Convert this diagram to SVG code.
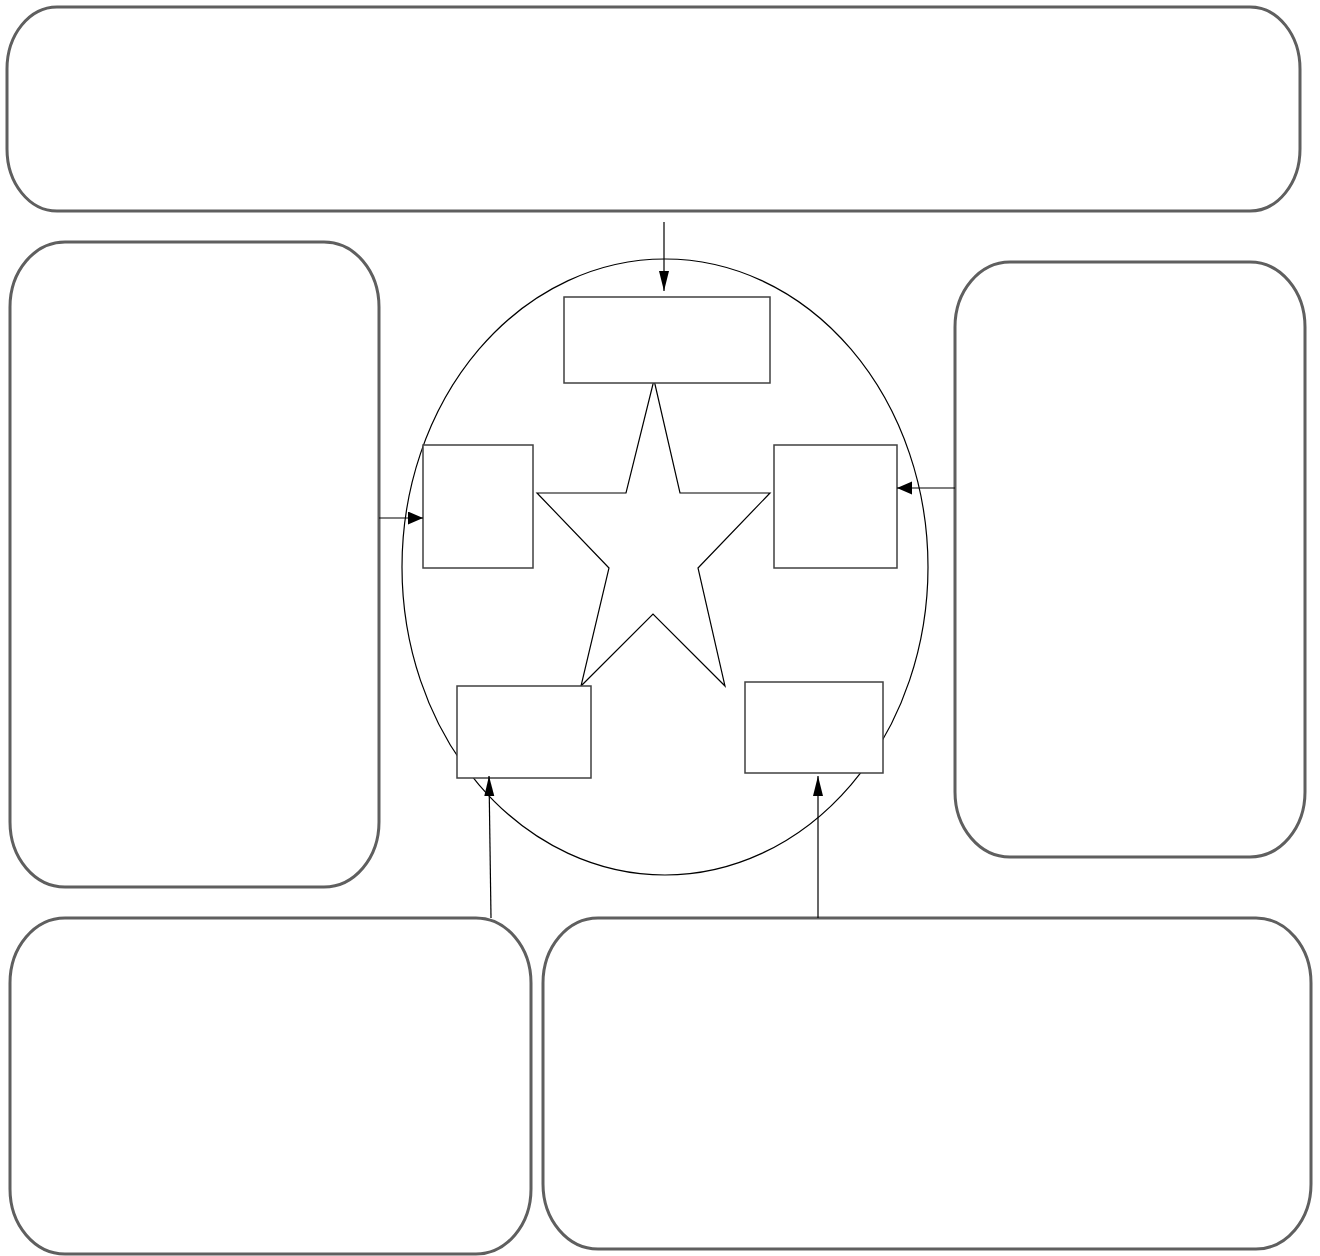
<svg xmlns="http://www.w3.org/2000/svg" width="1320" height="1256" viewBox="0 0 1320 1256">
<style>
.box{fill:#fff;stroke:#5f5f5f;stroke-width:3}
.inner{fill:#fff;stroke:#404040;stroke-width:1.5}
.shape{fill:none;stroke:#000;stroke-width:1.2}
.conn{fill:none;stroke:#000;stroke-width:1.2}
</style>
<defs>
<marker id="ahN" markerUnits="userSpaceOnUse" markerWidth="22" markerHeight="12" refX="20" refY="5" orient="auto">
<path d="M0,0 L20,5 L0,10 Z" fill="#000"/>
</marker>
<marker id="ahW" markerUnits="userSpaceOnUse" markerWidth="16" markerHeight="14" refX="15" refY="6.5" orient="auto">
<path d="M0,0 L15,6.5 L0,13 Z" fill="#000"/>
</marker>
</defs>
<g id="top-box"><rect class="box" x="7" y="7" width="1293" height="204" rx="50" ry="62"/></g>
<g id="left-box"><rect class="box" x="10" y="242" width="369" height="645" rx="55" ry="65"/></g>
<g id="right-box"><rect class="box" x="955" y="262" width="350" height="595" rx="55" ry="65"/></g>
<g id="bottom-left-box"><rect class="box" x="10" y="918" width="521" height="336" rx="55" ry="65"/></g>
<g id="bottom-right-box"><rect class="box" x="543" y="918" width="768" height="331" rx="55" ry="65"/></g>
<g id="ellipse"><ellipse class="shape" cx="665" cy="567" rx="263" ry="308"/></g>
<g id="star"><polygon class="shape" fill="#fff" points="654,380 680,493 770,493 698,568 725,686 653,614 581,686 609,568 537,493 626,493"/></g>
<g id="inner-top"><rect class="inner" x="564" y="297" width="206" height="86"/></g>
<g id="inner-left"><rect class="inner" x="423" y="445" width="110" height="123"/></g>
<g id="inner-right"><rect class="inner" x="774" y="445" width="123" height="123"/></g>
<g id="inner-bottom-left"><rect class="inner" x="457" y="686" width="134" height="92"/></g>
<g id="inner-bottom-right"><rect class="inner" x="745" y="682" width="138" height="91"/></g>
<g id="connectors">
<line class="conn" x1="664" y1="222" x2="664" y2="291" marker-end="url(#ahN)"/>
<line class="conn" x1="379" y1="518" x2="423" y2="518" marker-end="url(#ahW)"/>
<line class="conn" x1="955" y1="488" x2="897" y2="488" marker-end="url(#ahW)"/>
<line class="conn" x1="491" y1="918" x2="489" y2="776" marker-end="url(#ahN)"/>
<line class="conn" x1="818" y1="918" x2="818" y2="776" marker-end="url(#ahN)" stroke="#555"/>
</g>
</svg>
